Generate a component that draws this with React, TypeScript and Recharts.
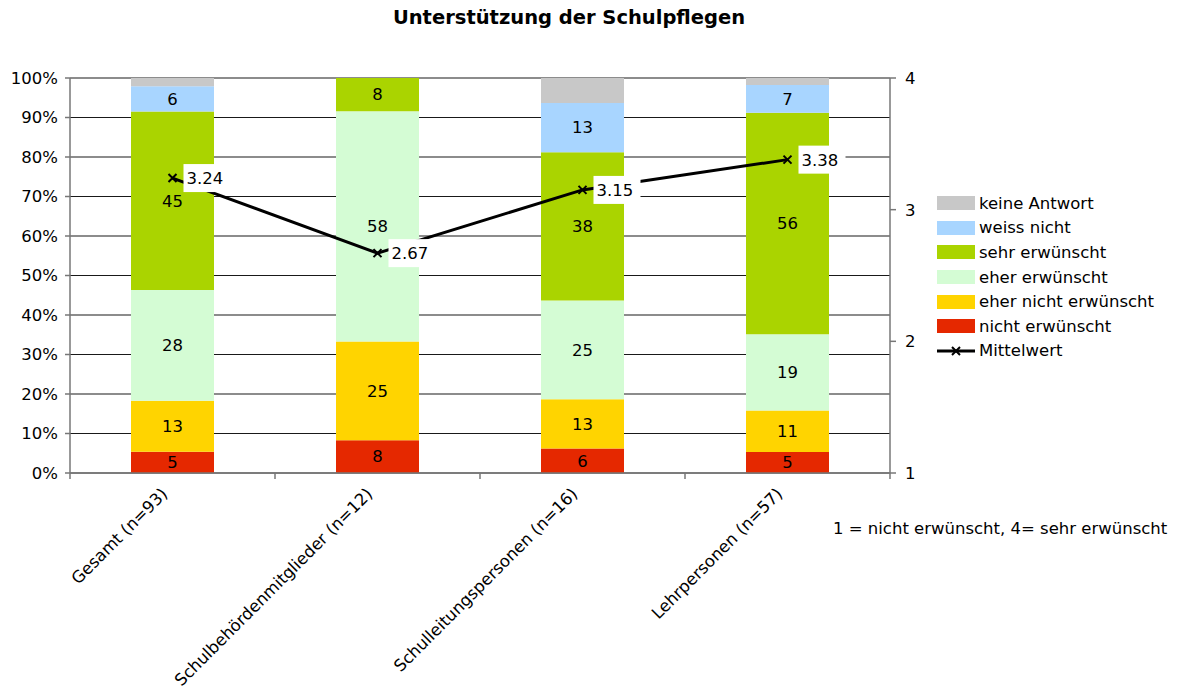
import {
  Bar,
  CartesianGrid,
  ComposedChart,
  LabelList,
  Line,
  XAxis,
  YAxis,
} from "recharts";

const categories = [
  "Gesamt (n=93)",
  "Schulbehördenmitglieder (n=12)",
  "Schulleitungspersonen (n=16)",
  "Lehrpersonen (n=57)",
];
const nichtErwuenscht = [5.4, 8.3, 6.2, 5.3];
const eherNichtErwuenscht = [12.9, 25.0, 12.5, 10.5];
const eherErwuenscht = [28.0, 58.3, 25.0, 19.3];
const sehrErwuenscht = [45.2, 8.4, 37.5, 56.1];
const weissNicht = [6.4, 0, 12.5, 7.0];
const keineAntwort = [2.1, 0, 6.3, 1.8];
const mittelwert = [3.24, 2.67, 3.15, 3.38];

const pctTicks = [0, 10, 20, 30, 40, 50, 60, 70, 80, 90, 100];
const mwTicks = [1, 2, 3, 4];

const series = [
  { key: "keine", name: "keine Antwort", color: "#C8C8C8", values: keineAntwort, label: false },
  { key: "weiss", name: "weiss nicht", color: "#A8D5FF", values: weissNicht, label: true },
  { key: "sehr", name: "sehr erwünscht", color: "#AAD400", values: sehrErwuenscht, label: true },
  { key: "eher", name: "eher erwünscht", color: "#D4FCD4", values: eherErwuenscht, label: true },
  { key: "eherNicht", name: "eher nicht erwünscht", color: "#FFD400", values: eherNichtErwuenscht, label: true },
  { key: "nicht", name: "nicht erwünscht", color: "#E52800", values: nichtErwuenscht, label: true },
];

const data = categories.map((name, i) => {
  const row: Record<string, any> = { name, mw: mittelwert[i] };
  series.forEach((s) => (row[s.key] = s.values[i]));
  return row;
});

const FONT = "'DejaVu Sans', Verdana, sans-serif";
const FS = 16.5;

function CategoryTick(props: any) {
  const { x, y, payload, index } = props;
  const half = 102.5;
  return (
    <g>
      <line x1={x - half} y1={y - 8} x2={x - half} y2={y - 2} stroke="#777" strokeWidth={1.5} />
      {index === categories.length - 1 && (
        <line x1={x + half} y1={y - 8} x2={x + half} y2={y - 2} stroke="#777" strokeWidth={1.5} />
      )}
      <text
        x={x - 4}
        y={y + 14}
        textAnchor="end"
        fontSize={FS}
        fontFamily={FONT}
        fill="#000"
        transform={`rotate(-45, ${x - 4}, ${y + 14})`}
      >
        {payload.value}
      </text>
    </g>
  );
}

function CrossDot(props: any) {
  const { cx, cy } = props;
  if (cx == null || cy == null) return null;
  return (
    <path
      d={`M${cx - 4},${cy - 4}L${cx + 4},${cy + 4}M${cx - 4},${cy + 4}L${cx + 4},${cy - 4}`}
      stroke="#000"
      strokeWidth={2}
    />
  );
}

function MwLabel(props: any) {
  const { x, y, value } = props;
  return (
    <g>
      <rect x={x + 11} y={y - 14} width={47} height={28} fill="#fff" />
      <text x={x + 14} y={y + 6} fontSize={FS} fontFamily={FONT} fill="#000">
        {Number(value).toFixed(2)}
      </text>
    </g>
  );
}

function ChartLegend() {
  return (
    <div style={{ position: "absolute", left: 937, top: 191, fontFamily: FONT, fontSize: FS, color: "#000" }}>
      {series.map((s) => (
        <div key={s.key} style={{ display: "flex", alignItems: "center", height: 24.6 }}>
          <div style={{ width: 38, height: 14, background: s.color, marginRight: 4 }} />
          <span>{s.name}</span>
        </div>
      ))}
      <div style={{ display: "flex", alignItems: "center", height: 24.6 }}>
        <svg width={38} height={14} style={{ marginRight: 4 }}>
          <line x1={0} y1={7} x2={38} y2={7} stroke="#000" strokeWidth={3} />
          <path d="M15,3L23,11M15,11L23,3" stroke="#000" strokeWidth={2} />
        </svg>
        <span>Mittelwert</span>
      </div>
    </div>
  );
}

export default function App() {
  return (
    <div style={{ position: "relative", width: 1183, height: 695, margin: -8, fontFamily: FONT }}>
      <div
        style={{
          position: "absolute",
          top: 6,
          left: 0,
          width: 1138,
          textAlign: "center",
          fontWeight: "bold",
          fontSize: 19.5,
        }}
      >
        Unterstützung der Schulpflegen
      </div>
      <ComposedChart
        width={1183}
        height={695}
        data={data}
        margin={{ top: 78, bottom: 0, left: 10, right: 253 }}
        barGap={0}
      >
        <CartesianGrid yAxisId="pct" vertical={false} stroke="#000" strokeOpacity={0.9} ticks={pctTicks} />
        <XAxis
          dataKey="name"
          interval={0}
          tick={<CategoryTick />}
          tickLine={false}
          axisLine={{ stroke: "#777", strokeWidth: 1.5 }}
          height={222}
        />
        <YAxis
          yAxisId="pct"
          domain={[0, 100]}
          ticks={pctTicks}
          interval={0}
          width={60}
          tickFormatter={(v) => `${v}%`}
          tick={{ fontSize: FS, fill: "#000", fontFamily: FONT }}
          tickSize={5}
          tickMargin={7}
          tickLine={{ stroke: "#777", strokeWidth: 1.5 }}
          axisLine={{ stroke: "#777", strokeWidth: 1.5 }}
          allowDataOverflow
        />
        <YAxis
          yAxisId="mw"
          orientation="right"
          domain={[1, 4]}
          ticks={mwTicks}
          interval={0}
          width={40}
          tick={{ fontSize: FS, fill: "#000", fontFamily: FONT }}
          tickSize={6}
          tickMargin={9}
          tickLine={{ stroke: "#777", strokeWidth: 1.5 }}
          axisLine={{ stroke: "#777", strokeWidth: 1.5 }}
        />
        {[...series].reverse().map((s) => (
          <Bar
            key={s.key}
            dataKey={s.key}
            name={s.name}
            yAxisId="pct"
            stackId="a"
            fill={s.color}
            barSize={83}
            isAnimationActive={false}
          >
            {s.label && (
              <LabelList
                dataKey={s.key}
                position="center"
                fontSize={FS}
                fontFamily={FONT}
                fill="#000"
                formatter={(v: any) => (v > 0 ? Math.round(v) : "")}
              />
            )}
          </Bar>
        ))}
        <Line
          yAxisId="mw"
          dataKey="mw"
          name="Mittelwert"
          type="linear"
          stroke="#000"
          strokeWidth={3}
          dot={<CrossDot />}
          activeDot={false}
          isAnimationActive={false}
        >
          <LabelList dataKey="mw" content={<MwLabel />} />
        </Line>
      </ComposedChart>
      <ChartLegend />
      <div style={{ position: "absolute", left: 833, top: 519, fontSize: FS }}>
        1 = nicht erwünscht, 4= sehr erwünscht
      </div>
    </div>
  );
}
